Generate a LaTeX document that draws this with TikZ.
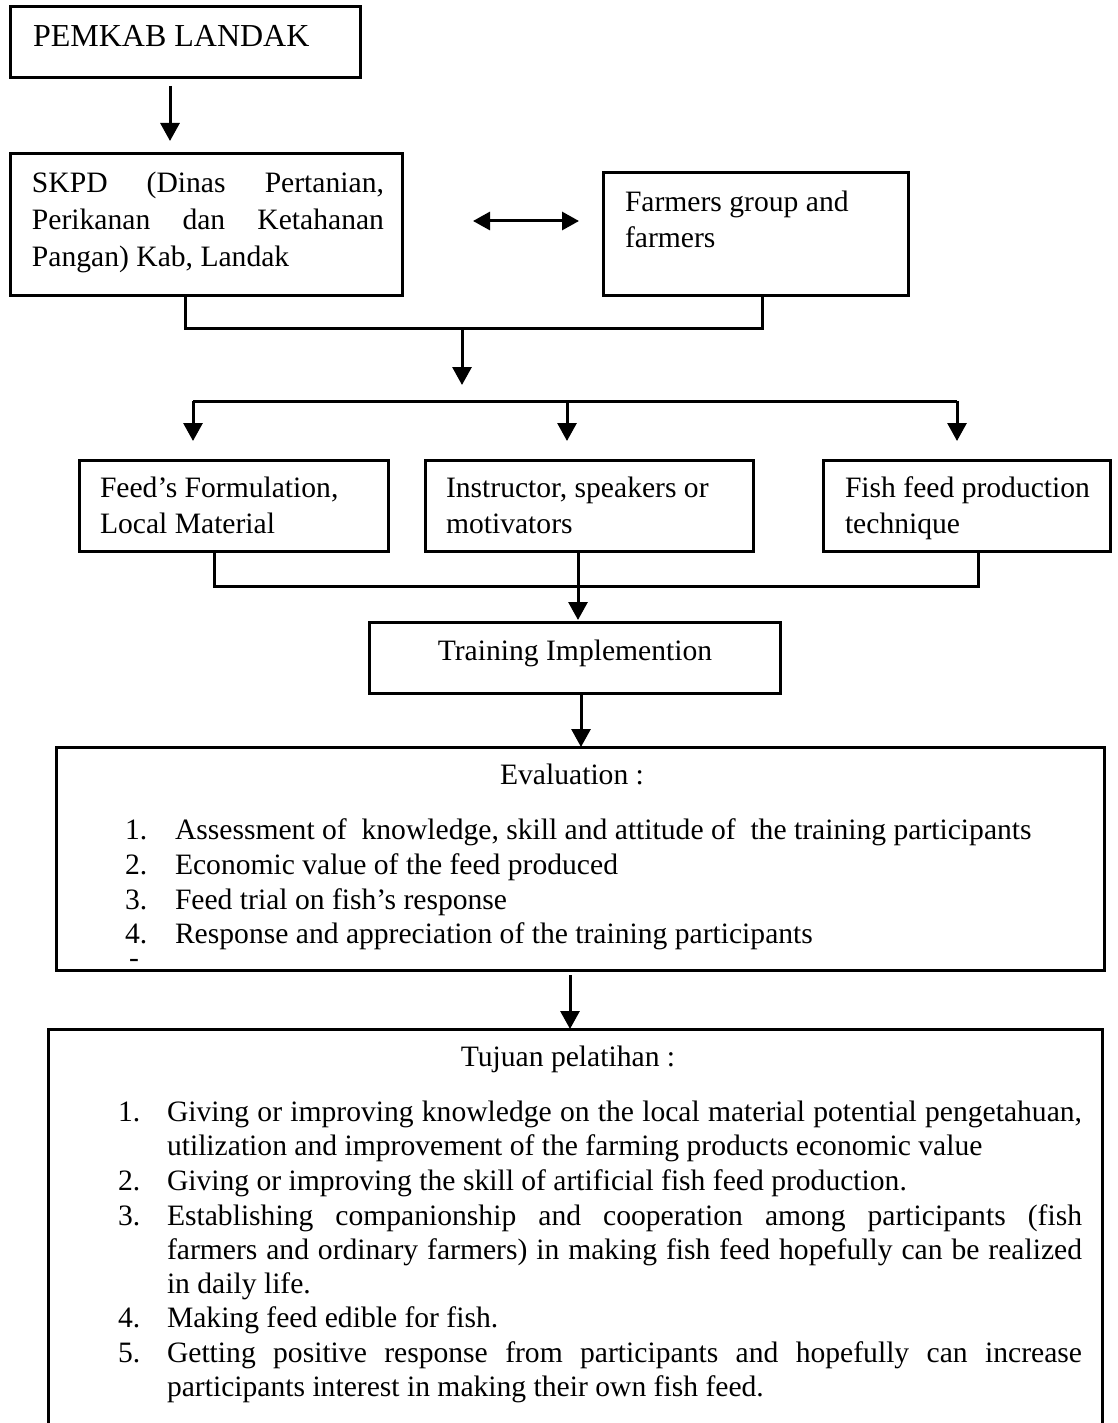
\documentclass[tikz,border=0pt]{standalone}
\usepackage{fontspec}
\setmainfont{Liberation Serif}[Ligatures=NoCommon]
\usetikzlibrary{arrows.meta,calc}

% body text: 14.8pt with Word-like single spacing
\newcommand\bodyfont{\fontsize{14.8pt}{17.2pt}\selectfont}
% one justified line, spread to the full width of the paragraph box
\newcommand\fullline[1]{\makebox[\linewidth][s]{#1}\\}

\tikzset{
  box/.style={draw, line width=1.5pt, rectangle, inner sep=0pt, outer sep=0pt},
  conn/.style={line width=1.5pt},
  arr/.style={conn, -{Triangle[length=9pt,width=9.5pt]}},
  darr/.style={conn, {Triangle[length=8.5pt,width=9pt]}-{Triangle[length=8.5pt,width=9pt]}},
  tx/.style={anchor=base west, inner sep=0pt, outer sep=0pt, font=\bodyfont},
  ctx/.style={anchor=base, inner sep=0pt, outer sep=0pt, font=\bodyfont},
}

\begin{document}
\begin{tikzpicture}[x=0.5pt,y=-0.5pt]
\useasboundingbox (0,0) rectangle (1118,1423);

% ---------- boxes ----------
\node[box, minimum width=175pt,   minimum height=35.5pt] (pemkab)   at (185,42.5)    {};
\node[box, minimum width=196pt,   minimum height=70.5pt] (skpd)     at (206,224.5)   {};
\node[box, minimum width=152.5pt, minimum height=61pt]   (farmers)  at (755.5,234)   {};
\node[box, minimum width=154.5pt, minimum height=45.5pt] (feed)     at (233.5,505.5) {};
\node[box, minimum width=164pt,   minimum height=45.5pt] (instr)    at (589,505.5)   {};
\node[box, minimum width=143.5pt, minimum height=45.5pt] (fish)     at (966.5,505.5) {};
\node[box, minimum width=205.5pt, minimum height=35.5pt] (training) at (574.5,657.5) {};
\node[box, minimum width=524pt,   minimum height=111.5pt] (eval)    at (580,858.5)   {};
% goals box runs past the lower edge of the page, so its bottom side is not drawn
\node[inner sep=0pt, outer sep=0pt, minimum width=527pt, minimum height=197pt] (tujuan) at (575,1226) {};
\draw[conn] (tujuan.south west) -- (tujuan.north west) -- (tujuan.north east) -- (tujuan.south east);

% ---------- box texts ----------
\node[tx, font=\fontsize{16pt}{18pt}\selectfont] (tpemkab) at (33,47) {PEMKAB LANDAK};
\node[tx] (tskpd) at (32,193) {\parbox[t]{176pt}{\fontsize{14.8pt}{18.25pt}\selectfont
  \fullline{SKPD (Dinas Pertanian,}\fullline{Perikanan dan Ketahanan}Pangan) Kab, Landak}};
\node[tx] (tfarmers) at (625,212) {\parbox[t]{150pt}{\fontsize{14.8pt}{18pt}\selectfont
  Farmers group and\\farmers}};
\node[tx] (tfeed) at (100,497) {\parbox[t]{150pt}{\fontsize{14.8pt}{18pt}\selectfont
  Feed’s Formulation,\\Local Material}};
\node[tx] (tinstr) at (446,497) {\parbox[t]{160pt}{\fontsize{14.8pt}{18pt}\selectfont
  Instructor, speakers or\\motivators}};
\node[tx] (tfish) at (845,497) {\parbox[t]{140pt}{\fontsize{14.8pt}{18pt}\selectfont
  Fish feed production\\technique}};
\node[ctx] (ttraining) at (575,660) {Training Implemention};

% evaluation list
\node[ctx] (teval) at (572,784) {Evaluation :};
\node[tx] (en1) at (125,839) {1.};
\node[tx] (et1) at (175,839) {Assessment of\ \ knowledge, skill and attitude of\ \ the training participants};
\node[tx] (en2) at (125,874) {2.};
\node[tx] (et2) at (175,874) {Economic value of the feed produced};
\node[tx] (en3) at (125,909) {3.};
\node[tx] (et3) at (175,909) {Feed trial on fish’s response};
\node[tx] (en4) at (125,943) {4.};
\node[tx] (et4) at (175,943) {Response and appreciation of the training participants};
\node[tx] (en5) at (129,967) {-};

% goals list
\node[ctx] (ttujuan) at (568,1066) {Tujuan pelatihan :};
\node[tx] (gn1) at (118,1121) {1.};
\node[tx] (gt1) at (167,1121) {\parbox[t]{457.5pt}{\bodyfont
  \fullline{Giving or improving knowledge on the local material potential pengetahuan,}utilization and improvement of the farming products economic value}};
\node[tx] (gn2) at (118,1190) {2.};
\node[tx] (gt2) at (167,1190) {Giving or improving the skill of artificial fish feed production.};
\node[tx] (gn3) at (118,1225) {3.};
\node[tx] (gt3) at (167,1225) {\parbox[t]{457.5pt}{\bodyfont
  \fullline{Establishing companionship and cooperation among participants (fish}\fullline{farmers and ordinary farmers) in making fish feed hopefully can be realized}in daily life.}};
\node[tx] (gn4) at (118,1327) {4.};
\node[tx] (gt4) at (167,1327) {Making feed edible for fish.};
\node[tx] (gn5) at (118,1362) {5.};
\node[tx] (gt5) at (167,1362) {\parbox[t]{457.5pt}{\bodyfont
  \fullline{Getting positive response from participants and hopefully can increase}participants interest in making their own fish feed.}};

% ---------- connectors ----------
\coordinate (m1) at (462,328);
\coordinate (split) at (462,401);
\coordinate (m2) at (578,586);

\draw[arr, shorten <=4pt, shorten >=6.5pt]
  ([xshift=-7.5pt]pemkab.south) -- ([xshift=-7.5pt]pemkab.south |- skpd.north);
\draw[darr, shorten <=35.5pt, shorten >=12pt]
  ([yshift=1.75pt]skpd.east) -- ([yshift=1.75pt]skpd.east -| farmers.west);

\draw[conn] ([xshift=-10.5pt]skpd.south) |- ([xshift=3.25pt]farmers.south |- m1)
  -- ([xshift=3.25pt]farmers.south);
\draw[arr, shorten >=8pt] (m1) -- (split);

\draw[conn] ([xshift=-20.25pt]feed.north |- split) -- ([xshift=-4.75pt]fish.north |- split);
\draw[arr, shorten >=9.5pt] ([xshift=-20.25pt]feed.north |- split) -- ([xshift=-20.25pt]feed.north);
\draw[arr, shorten >=9.5pt] ([xshift=-11pt]instr.north |- split) -- ([xshift=-11pt]instr.north);
\draw[arr, shorten >=9.5pt] ([xshift=-4.75pt]fish.north |- split) -- ([xshift=-4.75pt]fish.north);

\draw[conn] ([xshift=-9.75pt]feed.south) |- ([xshift=5.75pt]fish.south |- m2)
  -- ([xshift=5.75pt]fish.south);
\draw[arr, shorten >=1pt] ([xshift=-5.5pt]instr.south) -- ([xshift=1.75pt]training.north);

\draw[arr] ([xshift=3.25pt]training.south) -- ([xshift=3.25pt]training.south |- eval.north);
\draw[arr, shorten <=2.5pt] ([xshift=-5pt]eval.south) -- ([xshift=-5pt]eval.south |- tujuan.north);
\end{tikzpicture}
\end{document}
